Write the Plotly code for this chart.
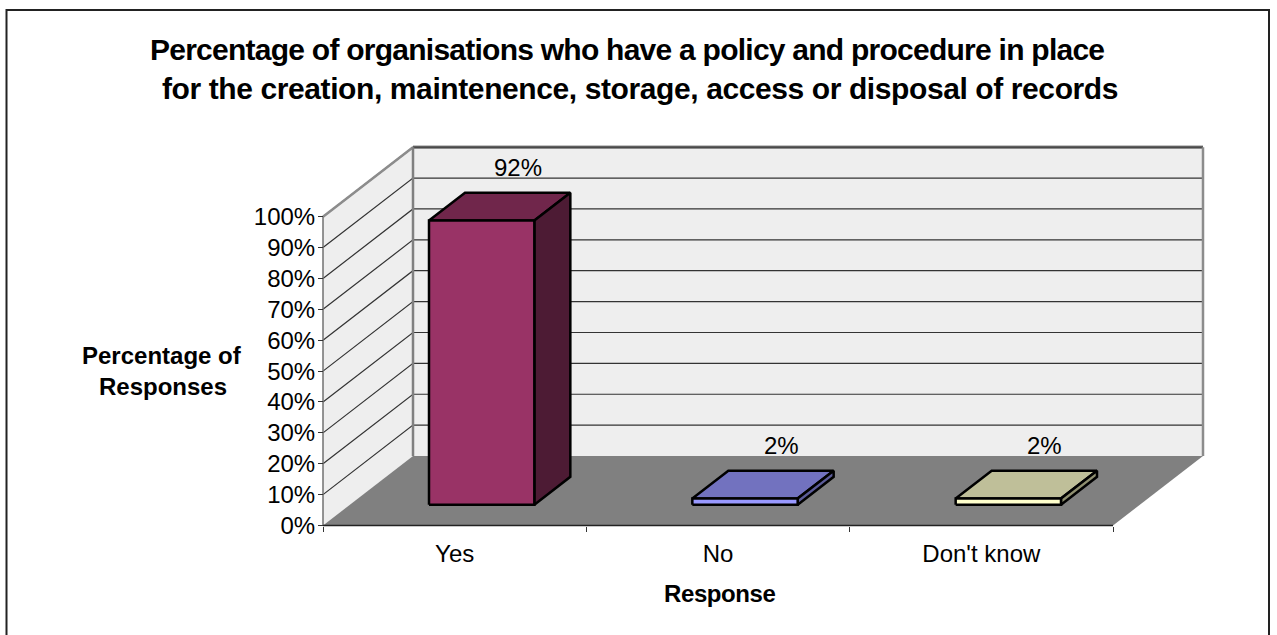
import plotly.graph_objects as go

# Survey results
categories = ["Yes", "No", "Don't know"]
values = [92, 2, 2]
value_labels = ["92%", "2%", "2%"]
y_ticks = [0, 10, 20, 30, 40, 50, 60, 70, 80, 90, 100]
y_tick_labels = ["0%", "10%", "20%", "30%", "40%", "50%", "60%", "70%", "80%", "90%", "100%"]

# Face colours per bar: front, top, side
front_colors = ["#993366", "#9999FF", "#FFFFCC"]
top_colors = ["#70264B", "#7272BF", "#BFBF99"]
side_colors = ["#4D1B34", "#5C5C99", "#8F8F70"]

WIDTH, HEIGHT = 1277, 635
X0_PX, X3_PX = 323, 1113     # category axis ends
Y0_PX, Y100_PX = 525.5, 216.7  # value axis ends
DEPTH_PX = (90, 69.5)        # oblique offset of the back wall
BAR_GAP = 0.3                # space on each side of a bar, in category widths
DEPTH_GAP = 0.3              # space in front of and behind a bar, as a share of depth

x_per_px = len(categories) / (X3_PX - X0_PX)
y_per_px = 100 / (Y0_PX - Y100_PX)
x_range = [-X0_PX * x_per_px, (WIDTH - X0_PX) * x_per_px]
y_range = [-(HEIGHT - Y0_PX) * y_per_px, Y0_PX * y_per_px]
dx = DEPTH_PX[0] * x_per_px
dy = DEPTH_PX[1] * y_per_px
n_cat = len(categories)


def proj(x, y, d):
    """Oblique projection of (category position, value, depth share) onto the plane."""
    return x + d * dx, y + d * dy


def poly(points, fill, line_color=None, line_width=0):
    xs, ys = zip(*[proj(*p) for p in points + points[:1]])
    return go.Scatter(
        x=xs, y=ys, mode="lines", fill="toself", fillcolor=fill,
        line=dict(color=line_color or fill, width=line_width),
        hoverinfo="skip", showlegend=False,
    )


def segment(points, color, width):
    xs, ys = zip(*[proj(*p) for p in points])
    return go.Scatter(
        x=xs, y=ys, mode="lines", line=dict(color=color, width=width),
        hoverinfo="skip", showlegend=False,
    )


def tight(text, spacing):
    return f'<span style="letter-spacing:{spacing}px">{text}</span>'


fig = go.Figure()

# Walls and floor
top = y_ticks[-1]
fig.add_trace(poly([(0, 0, 1), (n_cat, 0, 1), (n_cat, top, 1), (0, top, 1)], "#EEEEEE"))
fig.add_trace(poly([(0, 0, 0), (0, 0, 1), (0, top, 1), (0, top, 0)], "#EEEEEE"))
fig.add_trace(poly([(0, 0, 0), (n_cat, 0, 0), (n_cat, 0, 1), (0, 0, 1)], "#808080"))

# Top edge of the back wall sits under its gridline
fig.add_trace(segment([(0, top, 1), (n_cat, top, 1)], "#8C8C8C", 3.5))

# Gridlines across side wall and back wall
for t in y_ticks[1:]:
    fig.add_trace(segment([(0, t, 0), (0, t, 1), (n_cat, t, 1)], "#333333", 1.2))

# Remaining wall outlines
fig.add_trace(segment([(0, top, 0), (0, top, 1)], "#8C8C8C", 2.5))
fig.add_trace(segment([(n_cat, top, 1), (n_cat, 0, 1)], "#8C8C8C", 2.5))
fig.add_trace(segment([(0, 0, 1), (0, top, 1)], "#808080", 2.5))
fig.add_trace(segment([(0, 0, 0), (0, top, 0)], "#707070", 1.5))

# Bars
for i, v in enumerate(values):
    x1, x2 = i + BAR_GAP, i + 1 - BAR_GAP
    d1, d2 = DEPTH_GAP, 1 - DEPTH_GAP
    fig.add_trace(poly([(x1, v, d1), (x2, v, d1), (x2, v, d2), (x1, v, d2)], top_colors[i], "black", 2.5))
    fig.add_trace(poly([(x2, 0, d1), (x2, 0, d2), (x2, v, d2), (x2, v, d1)], side_colors[i], "black", 2.5))
    fig.add_trace(poly([(x1, 0, d1), (x2, 0, d1), (x2, v, d1), (x1, v, d1)], front_colors[i], "black", 2.5))

# Front edge of the floor
fig.add_trace(segment([(0, 0, 0), (n_cat, 0, 0)], "#222222", 1.5))

annotations = []
for i, label in enumerate(value_labels):
    ax, ay = proj(i + 0.5, values[i], 1 - DEPTH_GAP)
    annotations.append(dict(
        x=ax, y=ay, xref="x", yref="y", text=label, showarrow=False,
        yshift=25, xanchor="center", yanchor="middle",
        font=dict(family="Liberation Sans", size=24, color="black"),
    ))

bold = dict(family="Liberation Sans", color="black", weight="bold")
annotations += [
    dict(x=627 / WIDTH, y=1 - 49 / HEIGHT, xref="paper", yref="paper", showarrow=False,
         text=tight("Percentage of organisations who have a policy and procedure in place", -0.75),
         font=dict(size=30, **bold), xanchor="center", yanchor="middle"),
    dict(x=640 / WIDTH, y=1 - 88 / HEIGHT, xref="paper", yref="paper", showarrow=False,
         text=tight("for the creation, maintenence, storage, access or disposal of records", -0.4),
         font=dict(size=30, **bold), xanchor="center", yanchor="middle"),
    dict(x=162 / WIDTH, y=1 - 355 / HEIGHT, xref="paper", yref="paper", showarrow=False,
         text="Percentage of",
         font=dict(size=24, **bold), xanchor="center", yanchor="middle"),
    dict(x=163 / WIDTH, y=1 - 386 / HEIGHT, xref="paper", yref="paper", showarrow=False,
         text="Responses",
         font=dict(size=24, **bold), xanchor="center", yanchor="middle"),
    dict(x=720 / WIDTH, y=1 - 593 / HEIGHT, xref="paper", yref="paper", showarrow=False,
         text=tight("Response", -0.4),
         font=dict(size=24, **bold), xanchor="center", yanchor="middle"),
]

fig.update_layout(
    width=WIDTH, height=HEIGHT, margin=dict(l=0, r=0, t=0, b=0),
    paper_bgcolor="white", plot_bgcolor="white", showlegend=False,
    annotations=annotations,
    shapes=[dict(type="rect", xref="paper", yref="paper",
                 x0=6.5 / WIDTH, x1=1269 / WIDTH, y0=-0.01, y1=1 - 10 / HEIGHT,
                 line=dict(color="#222222", width=2))],
    xaxis=dict(
        range=x_range, anchor="free", position=1 - Y0_PX / HEIGHT,
        showgrid=False, zeroline=False, showline=False,
        tickmode="array", tickvals=[i + 0.5 for i in range(n_cat)],
        ticktext=categories, ticks="",
        ticklabelstandoff=11,
        tickfont=dict(family="Liberation Sans", size=24, color="black"),
        minor=dict(tickmode="array", tickvals=list(range(n_cat + 1)), ticks="outside",
                   ticklen=5, tickwidth=1, tickcolor="#333333", showgrid=False),
    ),
    yaxis=dict(
        range=y_range, anchor="free", position=X0_PX / WIDTH,
        showgrid=False, zeroline=False, showline=False,
        tickmode="array", tickvals=y_ticks,
        ticktext=y_tick_labels, ticklabelstandoff=-2,
        ticks="outside", ticklen=5, tickwidth=1, tickcolor="#333333",
        tickfont=dict(family="Liberation Sans", size=24, color="black"),
    ),
)

fig.write_html("out.html", config=dict(displayModeBar=False))
